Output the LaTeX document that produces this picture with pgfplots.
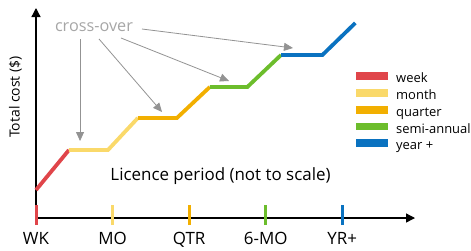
\documentclass[border=0pt]{standalone}
\usepackage{fontspec}
\setmainfont{Open Sans}
\usepackage{pgfplots}
\pgfplotsset{compat=1.18}
\usetikzlibrary{arrows.meta}
\definecolor{cred}{HTML}{E0454A}
\definecolor{cyel}{HTML}{FAD96A}
\definecolor{corg}{HTML}{F2AF00}
\definecolor{cgrn}{HTML}{6CBD2C}
\definecolor{cblu}{HTML}{0A72C0}
\definecolor{cgry}{HTML}{A6A6A6}
\begin{document}
\begin{tikzpicture}
\begin{axis}[
  scale only axis,
  width=379bp, height=210bp,
  xmin=0, xmax=4.95, ymin=0, ymax=210,
  axis lines=left,
  axis line style={line width=1.3pt, -{Triangle[width=9bp,length=9bp]}},
  xtick={0,1,2,3,4},
  xticklabels={WK,MO,QTR,6-MO,YR+},
  ytick=\empty,
  major tick length=0pt,
  xticklabel style={font=\fontsize{17}{19}\selectfont, yshift=-11bp},
  clip=false,
  every axis plot/.append style={line width=3.8bp},
  legend image code/.code={\fill[#1,draw=none] (0bp,-0.3bp) rectangle (32bp,7.5bp);},
  legend style={at={(axis cs:4.179,146)}, anchor=north west, draw=none, fill=none,
    font=\fontsize{13}{15}\selectfont, row sep=3.3bp, inner sep=0pt,
    nodes={inner sep=0pt, text height=9bp, text depth=3bp},
    /tikz/every odd column/.append style={column sep=8bp}},
  legend cell align=left,
]
\addplot[cred] coordinates {(0,28) (0.43,68)};
\addlegendentry{week}
\addplot[cyel] coordinates {(0.43,68) (0.94,68) (1.33,100)};
\addlegendentry{month}
\addplot[corg] coordinates {(1.33,100) (1.84,100) (2.27,131)};
\addlegendentry{quarter}
\addplot[cgrn] coordinates {(2.27,131) (2.76,131) (3.20,163)};
\addlegendentry{semi-annual}
\addplot[cblu] coordinates {(3.20,163) (3.74,163) (4.17,195)};
\addlegendentry{year +}
% colored tick marks
\addplot[cred, line width=3bp, forget plot] coordinates {(0,-7) (0,13)};
\addplot[cyel, line width=3bp, forget plot] coordinates {(1,-7) (1,13)};
\addplot[corg, line width=3bp, forget plot] coordinates {(2,-7) (2,13)};
\addplot[cgrn, line width=3bp, forget plot] coordinates {(3,-7) (3,13)};
\addplot[cblu, line width=3bp, forget plot] coordinates {(4,-7) (4,13)};
% annotations
\node[font=\fontsize{16.3}{18}\selectfont, text=cgry] at (axis cs:0.757,191) {cross-over};
\begin{scope}[line width=0.8bp, -{Triangle[width=8bp,length=9bp]}]
\draw[gray!85] (axis cs:0.575,179) -- (axis cs:0.575,77);
\draw[gray!85] (axis cs:0.823,179) -- (axis cs:1.646,106);
\draw[gray!85] (axis cs:1.110,180) -- (axis cs:2.521,137);
\draw[gray!85] (axis cs:1.384,189) -- (axis cs:3.356,170);
\end{scope}
\node[font=\fontsize{17}{19}\selectfont] at (axis cs:2.41,42) {Licence period (not to scale)};
\node[font=\fontsize{14}{16}\selectfont, rotate=90] at (axis cs:-0.27,121) {Total cost (\$)};
\coordinate (bl) at (axis cs:-0.4702,-32);
\coordinate (tr) at (axis cs:5.6811,218);
\end{axis}
\pgfresetboundingbox
\useasboundingbox (bl) rectangle (tr);
\end{tikzpicture}
\end{document}
